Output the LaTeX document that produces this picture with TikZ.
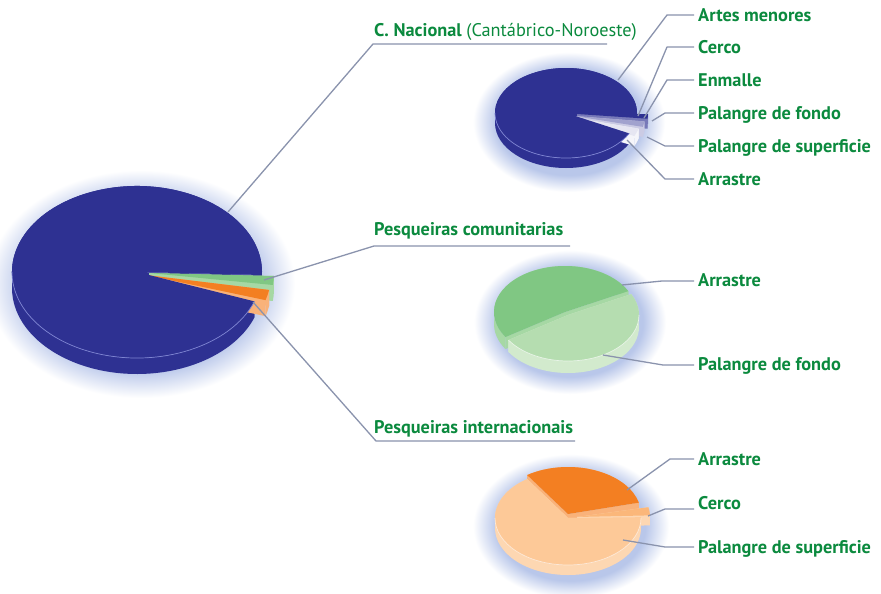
\documentclass[tikz,border=0pt]{standalone}
\usepackage{fontspec}
\setmainfont{PT Sans}
\usetikzlibrary{calc}
\definecolor{navy}{HTML}{2E3192}
\definecolor{navyrim}{HTML}{7E84D2}
\definecolor{lblgreen}{HTML}{0B8A3E}
\definecolor{conc}{HTML}{8A93AD}
\definecolor{glowc}{HTML}{B9C7EA}
\definecolor{gdark}{HTML}{80C783}
\definecolor{gdarkside}{HTML}{A6D8A4}
\definecolor{glight}{HTML}{B5DDB0}
\definecolor{glightside}{HTML}{D2EACD}
\definecolor{odark}{HTML}{F37F22}
\definecolor{odarkside}{HTML}{F9B27A}
\definecolor{peach}{HTML}{FDC998}
\definecolor{peachside}{HTML}{FDD7B2}
\definecolor{ocerco}{HTML}{FBB77A}
\pgfdeclareradialshading{pieglow}{\pgfpoint{0bp}{0bp}}{color(0bp)=(glowc); color(19bp)=(glowc); color(25bp)=(white); color(50bp)=(white)}
% sides: #1 cx, #2 cy, #3 rx, #4 ry, #5 thickness, #6 start, #7 end, #8 side colour
\newcommand\pside[8]{%
  \fill[#8] ($(#1,#2)+(#6:#3 and #4)$) arc[start angle=#6,end angle=#7,x radius=#3,y radius=#4]
     -- ++(0,#5) arc[start angle=#7,end angle=#6,x radius=#3,y radius=#4] -- cycle;
  \fill[#8] (#1,#2) -- ($(#1,#2)+(#7:#3 and #4)$) -- ++(0,#5) -- ($(#1,#2)+(0,#5)$) -- cycle;
  \fill[#8] (#1,#2) -- ($(#1,#2)+(#6:#3 and #4)$) -- ++(0,#5) -- ($(#1,#2)+(0,#5)$) -- cycle;
}
% top: #1 cx, #2 cy, #3 rx, #4 ry, #5 start, #6 end, #7 colour
\newcommand\ptop[7]{%
  \fill[#7] (#1,#2) -- ($(#1,#2)+(#5:#3 and #4)$) arc[start angle=#5,end angle=#6,x radius=#3,y radius=#4] -- cycle;
}
\newcommand\pglow[4]{%
  \shade[shading=pieglow] (#1,#2) ellipse[x radius=#3,y radius=#4];
}
\tikzset{
  lbl/.style={anchor=base west, text=lblgreen, inner sep=0pt, font=\bfseries\fontsize{18.3}{20}\selectfont},
  con/.style={draw=conc, line width=1.3pt, line join=round},
  rim/.style={draw=#1, line width=0.7pt},
}
\begin{document}
\begin{tikzpicture}[x=1pt,y=-1pt]
\useasboundingbox (0,0) rectangle (881,594);
\fill[white] (0,0) rectangle (881,594);

% glows
\pglow{141}{284}{154}{114}
\pglow{569}{122}{96}{70}
\pglow{570}{322}{96}{72}
\pglow{571}{526}{98}{72}

% ---- big pie ----
\pside{137}{272}{125}{86}{16}{20}{362}{navy}
\pside{149}{273}{125}{86}{16}{2}{8}{gdarkside}
\ptop{149}{273}{125}{86}{2}{8}{gdark}
\pside{146}{275}{125}{86}{16}{10}{17}{odarkside}
\ptop{146}{275}{125}{86}{10}{17}{odark}
\ptop{137}{272}{125}{86}{20}{362}{navy}
\draw[rim=navyrim] ($(137,272)+(20:125 and 86)$) arc[start angle=20,end angle=180,x radius=125,y radius=86];

% ---- small blue pie (C. Nacional) ----
\pside{566}{113}{71}{45}{10}{27}{360}{navy}
\pside{577}{114}{71}{45}{10}{0}{6}{white!35!navy}
\ptop{577}{114}{71}{45}{0}{6}{navy}
\pside{574}{116}{71}{45}{10}{7}{14}{white!75!navy}
\ptop{574}{116}{71}{45}{7}{14}{white!55!navy}
\pside{570}{117}{71}{45}{10}{15}{25}{white!95!navy}
\ptop{570}{117}{71}{45}{15}{25}{white!88!navy}
\ptop{566}{113}{71}{45}{27}{360}{navy}
\draw[rim=navyrim] ($(566,113)+(27:71 and 45)$) arc[start angle=27,end angle=180,x radius=71,y radius=45];

% ---- green pie ----
\pside{565}{312}{71}{46}{12}{147}{333}{gdarkside}
\ptop{565}{312}{71}{46}{147}{333}{gdark}
\pside{568}{315}{71}{46}{12}{-27}{147}{glightside}
\ptop{568}{315}{71}{46}{-27}{147}{glight}
\draw[rim=white!70!glight] ($(568,315)+(0:71 and 46)$) arc[start angle=0,end angle=147,x radius=71,y radius=46];

% ---- orange pie ----
\pside{568}{514}{73}{47}{10}{236}{346}{odarkside}
\ptop{568}{514}{73}{47}{236}{346}{odark}
\pside{577}{517}{73}{47}{10}{-12}{-2}{peachside}
\ptop{577}{517}{73}{47}{-12}{-2}{ocerco}
\pside{568}{518}{73}{47}{10}{-1}{236}{peachside}
\ptop{568}{518}{73}{47}{-1}{236}{peach}
\draw[rim=white!60!peach] ($(568,518)+(0:73 and 47)$) arc[start angle=0,end angle=180,x radius=73,y radius=47];

% ---- left labels ----
\node[lbl] (cn) at (374,37) {C. Nacional \mdseries(Cantábrico-Noroeste)};
\node[lbl] (pc) at (374,235) {Pesqueiras comunitarias};
\node[lbl] (pi) at (374,433) {Pesqueiras internacionais};
\coordinate (cnE) at (607,44);  \coordinate (cnK) at (373,44);  \coordinate (cnP) at (228,212);
\coordinate (pcE) at (570,246); \coordinate (pcK) at (374,246); \coordinate (pcP) at (264,280);
\coordinate (piE) at (575,441); \coordinate (piK) at (376,441); \coordinate (piP) at (253,302);
\draw[con] (cnE) -- (cnK) -- (cnP);
\draw[con] (pcE) -- (pcK) -- (pcP);
\draw[con] (piE) -- (piK) -- (piP);

% ---- right labels, C. Nacional ----
\node[lbl] (n1) at (698,21.5) {Artes menores};
\node[lbl] (n2) at (698,53.5) {Cerco};
\node[lbl] (n3) at (698,87) {Enmalle};
\node[lbl] (n4) at (698,119.5) {Palangre de fondo};
\node[lbl] (n5) at (698,152.5) {Palangre de superficie};
\node[lbl] (n6) at (698,185.5) {Arrastre};
\coordinate (n1P) at (618,80);
\coordinate (n2P) at (638,116);
\coordinate (n3P) at (644,118);
\coordinate (n4P) at (652,121);
\coordinate (n5P) at (647,137);
\coordinate (n6P) at (627,140);
\draw[con] ([xshift=-4pt]n1.west |- 0,15) -- (667,15) -- (n1P);
\draw[con] ([xshift=-4pt]n2.west |- 0,47) -- (667,47) -- (n2P);
\draw[con] ([xshift=-4pt]n3.west |- 0,80) -- (667,80) -- (n3P);
\draw[con] ([xshift=-4pt]n4.west |- 0,113) -- (665,113) -- (n4P);
\draw[con] ([xshift=-4pt]n5.west |- 0,146) -- (665,146) -- (n5P);
\draw[con] ([xshift=-4pt]n6.west |- 0,179) -- (665,179) -- (n6P);

% ---- right labels, comunitarias ----
\node[lbl] (g1) at (698,286) {Arrastre};
\node[lbl] (g2) at (698,370.5) {Palangre de fondo};
\coordinate (g1P) at (622,285);
\coordinate (g2P) at (603,355);
\draw[con] ([xshift=-4pt]g1.west |- 0,281) -- (662,281) -- (g1P);
\draw[con] ([xshift=-4pt]g2.west |- 0,365) -- (663,365) -- (g2P);

% ---- right labels, internacionais ----
\node[lbl] (o1) at (698,465) {Arrastre};
\node[lbl] (o2) at (698,509) {Cerco};
\node[lbl] (o3) at (698,553) {Palangre de superficie};
\coordinate (o1P) at (627,490);
\coordinate (o2P) at (648,516);
\coordinate (o3P) at (623,540);
\draw[con] ([xshift=-4pt]o1.west |- 0,459) -- (670,459) -- (o1P);
\draw[con] ([xshift=-4pt]o2.west |- 0,509) -- (665,509) -- (o2P);
\draw[con] ([xshift=-4pt]o3.west |- 0,547) -- (665,547) -- (o3P);
\end{tikzpicture}
\end{document}
